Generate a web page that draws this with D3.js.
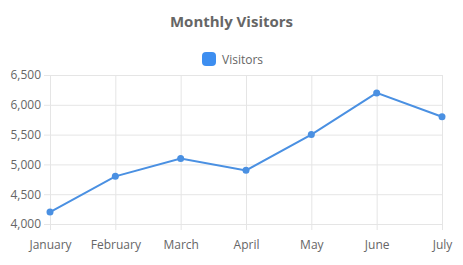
<!DOCTYPE html>
<html>
<head>
<meta charset="utf-8">
<script src="https://cdn.jsdelivr.net/npm/d3@7"></script>
<style>
  body { margin: 0; background: #fff; }
  text { font-family: "Open Sans", "Noto Sans", sans-serif; }
</style>
</head>
<body>
<div id="chart"></div>
<script>
const months = ["January", "February", "March", "April", "May", "June", "July"];
const visitors = [4200, 4800, 5100, 4900, 5500, 6200, 5800];
const yTicks = [4000, 4500, 5000, 5500, 6000, 6500];

const width = 463;
const height = 265;
const margin = { top: 75, right: 21, bottom: 41, left: 50 };
const innerWidth = width - margin.left - margin.right;
const innerHeight = height - margin.top - margin.bottom;
const lineColor = "#4a90e2";

const svg = d3.select("#chart")
              .append("svg")
              .attr("width", width)
              .attr("height", height);

// title
svg.append("text")
   .attr("x", width / 2)
   .attr("y", 27)
   .attr("text-anchor", "middle")
   .attr("font-size", 15)
   .attr("font-weight", "bold")
   .attr("fill", "#666")
   .text("Monthly Visitors");

// legend
const legend = svg.append("g").attr("transform", "translate(202,52)");
legend.append("rect")
      .attr("width", 14).attr("height", 14)
      .attr("rx", 4)
      .attr("fill", "#3d8ef0");
legend.append("text")
      .attr("x", 20).attr("y", 11.5)
      .attr("font-size", 12)
      .attr("fill", "#666")
      .text("Visitors");

const xScale = d3.scalePoint()
                 .domain(months)
                 .range([0, innerWidth]);

const yScale = d3.scaleLinear()
                 .domain([4000, 6500])
                 .range([innerHeight, 0]);

const g = svg.append("g")
             .attr("transform", `translate(${margin.left},${margin.top})`);

const xAxis = d3.axisBottom(xScale).tickSize(-innerHeight - 6).tickSizeOuter(0).tickPadding(10);
const yAxis = d3.axisLeft(yScale).tickValues(yTicks).tickFormat(d3.format(",")).tickSize(-innerWidth - 6).tickPadding(3);

g.append("g")
 .attr("transform", `translate(0,${innerHeight + 6})`)
 .call(xAxis)
 .call(a => a.select(".domain").remove())
 .call(a => a.selectAll("line").attr("stroke", "#e5e5e5"))
 .call(a => a.selectAll("text").attr("font-size", 12).attr("fill", "#666").attr("font-family", "'Open Sans', 'Noto Sans', sans-serif"));

g.append("g")
 .attr("transform", "translate(-6,0)")
 .call(yAxis)
 .call(a => a.select(".domain").remove())
 .call(a => a.selectAll("line").attr("stroke", "#e5e5e5"))
 .call(a => a.selectAll("text").attr("font-size", 12).attr("fill", "#666").attr("font-family", "'Open Sans', 'Noto Sans', sans-serif"));

const line = d3.line()
               .x((d, i) => xScale(months[i]))
               .y(d => yScale(d));

g.append("path")
 .datum(visitors)
 .attr("fill", "none")
 .attr("stroke", lineColor)
 .attr("stroke-width", 2)
 .attr("d", line);

g.selectAll(".dot")
 .data(visitors)
 .enter()
 .append("circle")
 .attr("class", "dot")
 .attr("cx", (d, i) => xScale(months[i]))
 .attr("cy", d => yScale(d))
 .attr("r", 3.5)
 .attr("fill", lineColor);
</script>
</body>
</html>
